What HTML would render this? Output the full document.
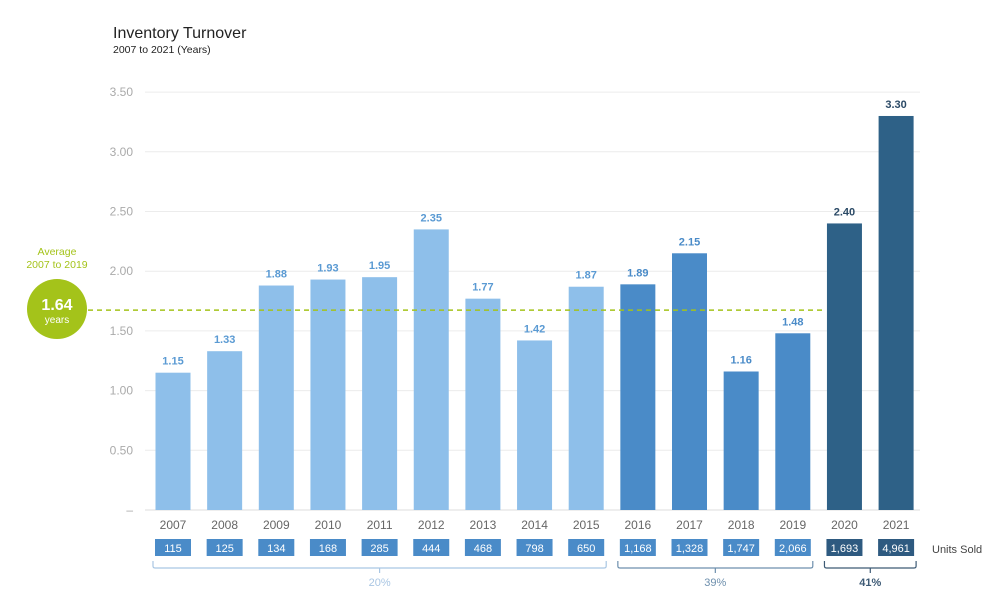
<!DOCTYPE html>
<html><head><meta charset="utf-8"><style>
body{margin:0;background:#fff;font-family:"Liberation Sans",Arial,sans-serif;}
svg text{font-family:"Liberation Sans",Arial,sans-serif;}
</style></head><body>
<svg id="c" width="1000" height="610">
<text x="113" y="38" font-size="16" fill="#222">Inventory Turnover</text>
<text x="113" y="53" font-size="10.5" fill="#222">2007 to 2021 (Years)</text>
<text x="135" y="588" font-size="1" fill="#fff"></text>
</svg>
<script>
const years=["2007","2008","2009","2010","2011","2012","2013","2014","2015","2016","2017","2018","2019","2020","2021"];
const turnover=[1.15,1.33,1.88,1.93,1.95,2.35,1.77,1.42,1.87,1.89,2.15,1.16,1.48,2.40,3.30];
const units=["115","125","134","168","285","444","468","798","650","1,168","1,328","1,747","2,066","1,693","4,961"];
const groups=[0,0,0,0,0,0,0,0,0,1,1,1,1,2,2];
const groupPct=["20%","39%","41%"];
const yTicks=[0,0.5,1,1.5,2,2.5,3,3.5];
const yTickLabels=["–","0.50","1.00","1.50","2.00","2.50","3.00","3.50"];
const average=1.64;

const svg=document.getElementById('c');
const NS='http://www.w3.org/2000/svg';
function mk(t,a,txt){const e=document.createElementNS(NS,t);for(const k in a)e.setAttribute(k,a[k]);if(txt!=null)e.textContent=txt;svg.appendChild(e);return e;}
const y0=510,pxPer=119.4;
const Y=v=>y0-v*pxPer;
const X=i=>173+i*51.65;
const barFill=["#8ebfea","#4a8bc8","#2e6187"];
const lblFill=["#5a9ad3","#4a8bc8","#2b4a66"];
const boxFill=["#4a8bc8","#4a8bc8","#2e5a80"];
const brkCol=["#a9c6e3","#6d8fad","#3d5a75"];

yTicks.forEach((v,i)=>{
  const g=mk('line',{x1:145,x2:920,y1:Y(v),y2:Y(v),stroke:i==0?'#ddd':'#ececec','stroke-width':1});
  
  
  const t=mk('text',{x:133,y:Y(v)+4,'text-anchor':'end','font-size':12,fill:'#aaa'},yTickLabels[i]);
  
  
});

years.forEach((yr,i)=>{
  const g=groups[i],v=turnover[i];
  const b=mk('rect',{x:X(i)-17.5,y:Y(v),width:35,height:v*pxPer,fill:barFill[g]});
  
  
  const l=mk('text',{x:X(i),y:Y(v)-8,'text-anchor':'middle','font-size':11,'font-weight':'bold',fill:lblFill[g]},v.toFixed(2));
  
  
  const xt=mk('text',{x:X(i),y:529,'text-anchor':'middle','font-size':12,fill:'#666'},yr);
  
  
  const ub=mk('rect',{x:X(i)-18,y:539,width:36,height:17,fill:boxFill[g]});
  
  
  const ut=mk('text',{x:X(i),y:552,'text-anchor':'middle','font-size':11,fill:'#fff'},units[i]);
  
  
});
const us=mk('text',{x:932,y:553,'font-size':11,fill:'#444'},'Units Sold');



groupPct.forEach((p,g)=>{
  const idx=groups.map((gg,i)=>gg==g?i:-1).filter(i=>i>=0);
  const a=X(idx[0])-20,b=X(idx[idx.length-1])+20,m=(a+b)/2;
  const br=mk('path',{d:`M${a},561 v5 q0,2 2,2 H${b-2} q2,0 2,-2 v-5 M${m},568 v5`,fill:'none',stroke:brkCol[g],'stroke-width':1.2});
  
  
  const t=mk('text',{x:m,y:586,'text-anchor':'middle','font-size':11,'font-weight':g==2?'bold':'normal',fill:brkCol[g]},p);
  
  
});

const al=mk('line',{x1:88,x2:822,y1:Y(average)-4,y2:Y(average)-4,stroke:'#a4c31a','stroke-width':1.5,'stroke-dasharray':'5,4'});


const cc=mk('circle',{cx:57,cy:309,r:30,fill:'#a4c31a'});


const ct=mk('text',{x:57,y:310,'text-anchor':'middle','font-size':16,'font-weight':'bold',fill:'#fff'},average.toFixed(2));


const cy=mk('text',{x:57,y:323,'text-anchor':'middle','font-size':10,fill:'#fff'},'years');


const a1=mk('text',{x:57,y:255,'text-anchor':'middle','font-size':10.5,fill:'#a4c31a'},'Average');


const a2=mk('text',{x:57,y:268,'text-anchor':'middle','font-size':10.5,fill:'#a4c31a'},'2007 to 2019');


</script>
</body></html>
